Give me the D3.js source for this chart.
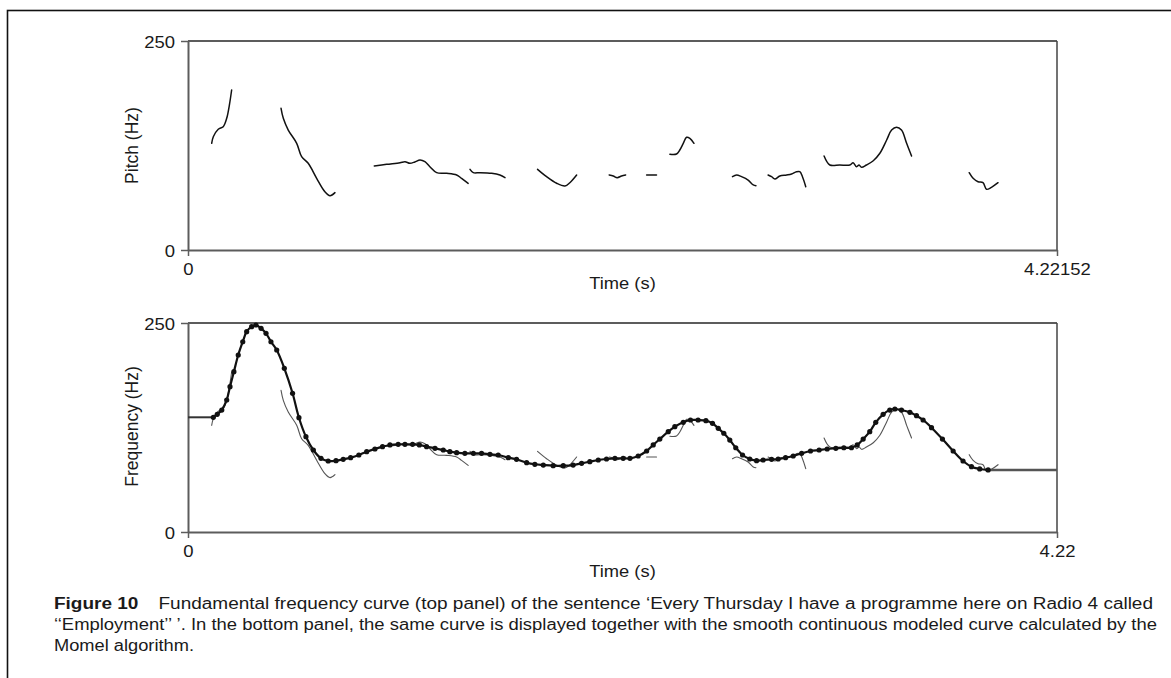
<!DOCTYPE html>
<html><head><meta charset="utf-8">
<script src="https://cdn.jsdelivr.net/npm/d3@7"></script>
<style>
html,body{margin:0;padding:0;background:#fff;overflow:hidden}
svg{display:block}
text{font-family:"Liberation Sans", Arial, Helvetica, sans-serif;fill:#1a1a1a}
</style></head><body>
<svg id="c" width="1171" height="678"></svg>
<script>
// ---------- data ----------
const timeMax = 4.22152;
const xTickValues = [0, 4.22152];
const topXTickLabels = ["0", "4.22152"];
const bottomXTickLabels = ["0", "4.22"];
const yTickValues = [0, 250];
const yTickLabels = ["0", "250"];

// measured F0 (pitch) fragments: [time s, Hz]
const f0Seg1 = [[0.115,127.6],[0.123,135.5],[0.147,144.4],[0.171,147.5],[0.188,157.5],[0.201,173.4],[0.212,191.4]];
const f0Seg2 = [[0.452,169.5],[0.463,157.5],[0.487,143.5],[0.528,127.6],[0.552,111.6],[0.584,103.7],[0.625,85.8],[0.665,69.8],[0.690,65.0],[0.714,68.6]];
const f0Seg3 = [[0.905,100.5],[0.965,102.5],[1.030,104.4],[1.054,105.6],[1.078,103.7],[1.102,105.3],[1.127,107.7],[1.151,105.6],[1.175,99.6],[1.208,92.5],[1.256,91.7],[1.305,89.7],[1.329,85.7],[1.361,79.7]];
const f0Seg4 = [[1.370,96.5],[1.386,92.5],[1.418,92.5],[1.475,91.7],[1.515,89.7],[1.540,86.5]];
const f0Seg5 = [[1.698,96.5],[1.742,87.7],[1.791,79.8],[1.831,76.6],[1.855,80.5],[1.888,89.7]];
const f0Seg6 = [[2.046,89.7],[2.066,88.5],[2.085,86.5],[2.106,88.5],[2.126,89.7]];
const f0Seg7 = [[2.228,89.7],[2.276,89.7]];
const f0Seg8 = [[2.341,114.5],[2.373,114.8],[2.389,119.6],[2.406,127.6],[2.422,134.8],[2.438,133.6],[2.458,127.6]];
const f0Seg9 = [[2.645,87.7],[2.665,89.7],[2.689,87.7],[2.721,83.7],[2.746,77.8],[2.759,76.9]];
const f0Seg10 = [[2.818,89.7],[2.835,87.7],[2.851,84.9],[2.875,88.5],[2.908,89.7],[2.932,90.9],[2.956,93.7],[2.972,93.7],[2.985,87.7],[3.001,75.7]];
const f0Seg11 = [[3.090,112.4],[3.118,101.7],[3.166,101.7],[3.215,101.7],[3.231,104.4],[3.248,99.6],[3.260,101.7],[3.272,98.9],[3.296,101.7],[3.329,106.8],[3.361,115.7],[3.394,131.6],[3.418,143.5],[3.442,146.8],[3.466,143.5],[3.491,127.6],[3.515,112.4]];
const f0Seg12 = [[3.795,92.5],[3.814,85.8],[3.838,81.7],[3.862,80.5],[3.879,72.6],[3.903,75.0],[3.935,80.5]];
const f0Segments = [f0Seg1,f0Seg2,f0Seg3,f0Seg4,f0Seg5,f0Seg6,f0Seg7,f0Seg8,f0Seg9,f0Seg10,f0Seg11,f0Seg12];

// Momel modelled curve (sampled points shown as dots)
const momelTimes = [0.123,0.142,0.164,0.188,0.204,0.223,0.244,0.266,0.285,0.309,
0.330,0.355,0.379,0.403,0.431,0.468,0.508,0.539,0.573,0.609,
0.646,0.681,0.719,0.754,0.790,0.830,0.868,0.908,0.945,0.981,
1.021,1.054,1.091,1.124,1.159,1.200,1.240,1.272,1.305,1.345,
1.386,1.426,1.467,1.507,1.556,1.596,1.645,1.685,1.726,1.774,
1.823,1.871,1.912,1.952,1.993,2.033,2.074,2.114,2.147,2.187,
2.228,2.260,2.292,2.333,2.365,2.406,2.441,2.478,2.516,2.548,
2.576,2.603,2.632,2.661,2.694,2.729,2.762,2.794,2.835,2.867,
2.903,2.940,2.981,3.024,3.066,3.105,3.147,3.186,3.223,3.251,
3.280,3.312,3.341,3.377,3.409,3.434,3.466,3.507,3.539,3.571,
3.612,3.665,3.717,3.765,3.806,3.846,3.887];
const momelHz = [137.2,140.8,145.9,157.9,173.8,191.8,211.7,227.6,239.6,245.6,
247.6,243.6,237.6,227.6,217.7,195.8,165.9,136.7,114.0,98.1,
88.1,84.9,85.3,86.9,88.9,92.1,96.1,99.3,102.1,104.1,
104.9,104.9,104.9,104.1,102.1,100.1,98.1,96.1,94.9,94.1,
94.1,94.1,92.9,92.1,88.9,86.9,82.9,81.0,80.1,79.3,
79.3,80.1,82.1,84.1,86.1,87.3,88.1,88.1,88.1,90.9,
96.9,104.1,111.2,120.0,126.0,131.2,134.0,134.0,133.2,130.0,
124.0,118.1,110.0,100.8,92.1,87.3,85.3,86.1,86.9,87.3,
88.9,90.9,94.1,96.9,98.1,99.3,100.1,100.8,100.8,104.1,
111.2,120.0,131.2,140.8,145.9,147.1,145.9,143.2,139.1,134.0,
124.8,111.2,96.9,84.9,78.1,75.4,74.2];

const captionLines = [
  "Fundamental frequency curve (top panel) of the sentence \u2018Every Thursday I have a programme here on Radio 4 called",
  "\u2018\u2018Employment\u2019\u2019 \u2019. In the bottom panel, the same curve is displayed together with the smooth continuous modeled curve calculated by the",
  "Momel algorithm."
];

// ---------- drawing ----------
const svg = d3.select("#c");
const AXIS = "#5c5c5c";

svg.append("rect").attr("x",7.5).attr("y",10.5).attr("width",1200).attr("height",700)
  .attr("fill","none").attr("stroke","#111").attr("stroke-width",1.6);

const x = d3.scaleLinear().domain([0, timeMax]).range([188, 1057]);

function stretch(sel, f){
  sel.each(function(){
    const w = this.getComputedTextLength();
    this.setAttribute("textLength", (w*f).toFixed(1));
    this.setAttribute("lengthAdjust","spacingAndGlyphs");
  });
}

function panel(top, bottom, xLabels, yTitle, withModel){
  const y = d3.scaleLinear().domain([0,250]).range([bottom, top]);
  const g = svg.append("g");

  // frame (top & right)
  g.append("line").attr("x1",x(0)).attr("x2",x(timeMax)).attr("y1",y(250)).attr("y2",y(250))
    .attr("stroke",AXIS).attr("stroke-width",2);
  g.append("line").attr("x1",x(timeMax)).attr("x2",x(timeMax)).attr("y1",y(250)).attr("y2",y(0))
    .attr("stroke","#444").attr("stroke-width",1.5);

  // y axis
  const ya = g.append("g").attr("transform",`translate(${x(0)},0)`)
    .call(d3.axisLeft(y).tickValues(yTickValues).tickSize(7).tickSizeOuter(0).tickPadding(6)
      .tickFormat((d,i)=>yTickLabels[i]));
  // x axis
  const xa = g.append("g").attr("transform",`translate(0,${y(0)})`)
    .call(d3.axisBottom(x).tickValues(xTickValues).tickSize(6).tickSizeOuter(0).tickPadding(7.5)
      .tickFormat((d,i)=>xLabels[i]));
  [ya, xa].forEach(a=>{
    a.select(".domain").attr("stroke",AXIS).attr("stroke-width",2);
    a.selectAll(".tick line").attr("stroke",AXIS).attr("stroke-width",1.5);
    a.selectAll(".tick text").attr("font-size",16.5).attr("fill","#1a1a1a")
      .attr("font-family","Liberation Sans, Arial, sans-serif");
  });
  ya.selectAll(".tick text").attr("dy","0.42em");
  stretch(ya.selectAll(".tick text"), 1.12);
  stretch(xa.selectAll(".tick text"), 1.12);

  // axis titles
  const tt = g.append("text").attr("x",(x(0)+x(timeMax))/2).attr("y",y(0)+ (withModel?45:39))
    .attr("text-anchor","middle").attr("font-size",16.5).text("Time (s)");
  stretch(tt, 1.11);
  g.append("text").attr("transform",`translate(138,${(y(0)+y(250))/2+ (withModel?-1:0)}) rotate(-90)`)
    .attr("text-anchor","middle").attr("font-size",17.5).text(yTitle);

  const line = d3.line().x(d=>x(d[0])).y(d=>y(d[1])).curve(d3.curveCatmullRom.alpha(0.5));

  // F0 fragments
  g.append("g").selectAll("path").data(f0Segments).join("path")
    .attr("d", line).attr("fill","none")
    .attr("stroke", withModel ? "#555" : "#111")
    .attr("stroke-width", withModel ? 1.1 : 1.5)
    .attr("stroke-linejoin","round").attr("stroke-linecap","round");

  if(withModel){
    const pts = momelTimes.map((t,i)=>[t, momelHz[i]]);
    g.append("path").datum([[0, momelHz[0]], pts[0]]).attr("d", d3.line().x(d=>x(d[0])).y(d=>y(d[1])))
      .attr("fill","none").attr("stroke","#333").attr("stroke-width",2);
    g.append("path").datum(pts).attr("d", line).attr("fill","none")
      .attr("stroke","#111").attr("stroke-width",2.2);
    g.append("path").datum([pts[pts.length-1], [timeMax, momelHz[momelHz.length-1]]])
      .attr("d", d3.line().x(d=>x(d[0])).y(d=>y(d[1])))
      .attr("fill","none").attr("stroke","#555").attr("stroke-width",2.5);
    g.append("g").selectAll("circle").data(pts).join("circle")
      .attr("cx",d=>x(d[0])).attr("cy",d=>y(d[1])).attr("r",2.6).attr("fill","#111");
  }
}

panel(41, 250, topXTickLabels, "Pitch (Hz)", false);
panel(323, 532, bottomXTickLabels, "Frequency (Hz)", true);

// caption
const cap = svg.append("g");
const c1 = cap.append("text").attr("x",54).attr("y",609).attr("font-size",16).attr("fill","#111");
c1.append("tspan").attr("font-weight","bold").text("Figure 10");
c1.append("tspan").attr("dx",17).text(captionLines[0]);
c1.attr("textLength",1099).attr("lengthAdjust","spacingAndGlyphs");
cap.append("text").attr("x",54).attr("y",630).attr("font-size",16).attr("fill","#111").text(captionLines[1])
  .attr("textLength",1103).attr("lengthAdjust","spacingAndGlyphs");
cap.append("text").attr("x",54).attr("y",651).attr("font-size",16).attr("fill","#111").text(captionLines[2])
  .attr("textLength",140).attr("lengthAdjust","spacingAndGlyphs");
</script>
</body></html>
